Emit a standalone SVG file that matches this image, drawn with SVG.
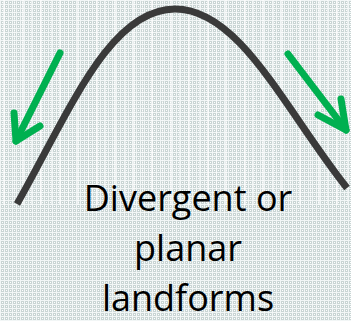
<svg xmlns="http://www.w3.org/2000/svg" width="351" height="321" viewBox="0 0 351 321">
  <defs>
    <pattern id="grid" width="4" height="4" patternUnits="userSpaceOnUse">
      <rect width="4" height="4" fill="#c9d5d4"/>
      <rect x="0" y="0" width="4" height="1" fill="#f2f6f6"/>
      <rect x="0" y="0" width="1" height="4" fill="#f2f6f6"/>
      <rect x="2" y="2" width="1" height="1" fill="#ffffff"/>
    </pattern>
    <pattern id="streaks" width="37" height="205" patternUnits="userSpaceOnUse">
      <rect x="3" width="2" height="205" fill="#ffffff" opacity="0.6"/>
      <rect x="14" width="1" height="205" fill="#ffffff" opacity="0.5"/>
      <rect x="22" width="2" height="205" fill="#ffffff" opacity="0.6"/>
      <rect x="31" width="1" height="205" fill="#ffffff" opacity="0.5"/>
    </pattern>
  </defs>
  <style>
    .arrow { fill: none; stroke: #00b050; stroke-width: 7; stroke-linecap: round; stroke-linejoin: round; }
    .curve { fill: none; stroke: #3a3a3a; stroke-width: 7; }
    .label { font-family: "Open Sans", "Liberation Sans", sans-serif; font-size: 36px; fill: #000; text-anchor: middle; }
  </style>
  <rect width="351" height="321" fill="url(#grid)"/>
  <rect width="351" height="205" fill="url(#streaks)"/>

  <g id="ridge">
    <path class="curve" d="M17,204 C70,110 110,9 175,9 C240,9 285,110 347,188"/>
  </g>

  <g id="connectors">
    <g id="arrow-left">
      <path class="arrow" d="M60,53 L16,141"/>
      <path class="arrow" d="M14,113 L16,141 L40,126"/>
    </g>
    <g id="arrow-right">
      <path class="arrow" d="M288,54 L346,130"/>
      <path class="arrow" d="M318,115 L346,130 L341,99"/>
    </g>
  </g>

  <g id="label">
    <text class="label" x="188" y="211">Divergent or</text>
    <text class="label" x="188" y="261">planar</text>
    <text class="label" x="188" y="311">landforms</text>
  </g>
</svg>
